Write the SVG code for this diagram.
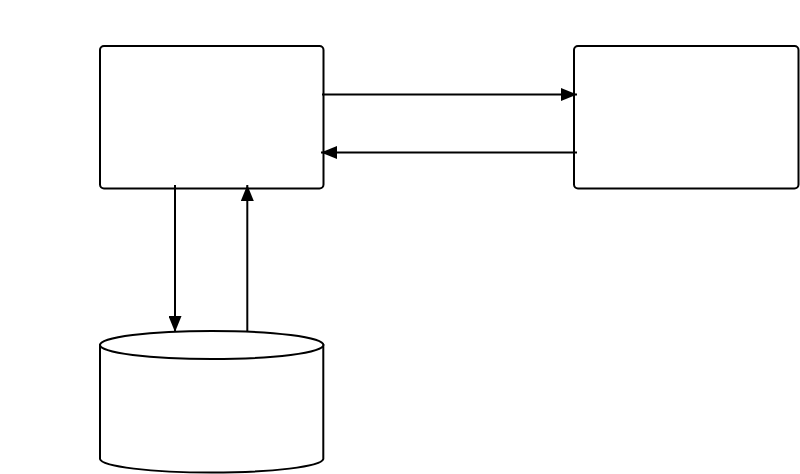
<svg xmlns="http://www.w3.org/2000/svg" width="800" height="474" viewBox="0 0 800 474">
<defs>
<style>
.shape{fill:#fff;stroke:#000;stroke-width:2}
.conn{fill:none;stroke:#000;stroke-width:2}
</style>
<marker id="arr" viewBox="0 0 16 13" refX="16" refY="6.5" markerWidth="16" markerHeight="13" markerUnits="userSpaceOnUse" orient="auto">
<path d="M0,0 L16,6.5 L0,13 Z" fill="#000"/>
</marker>
</defs>
<rect width="800" height="474" fill="#fff"/>
<g id="node-app">
<rect class="shape" x="100" y="46" width="223.5" height="142.5" rx="4"/>
</g>
<g id="node-service">
<rect class="shape" x="574" y="46" width="224.5" height="142.5" rx="4"/>
</g>
<g id="node-db">
<path class="shape" d="M100,345 L100,459 A111.7,14 0 0 0 323.3,459 L323.3,345 Z"/>
<ellipse class="shape" cx="211.7" cy="345" rx="111.7" ry="14"/>
</g>
<g id="connectors">
<line class="conn" x1="322" y1="94.5" x2="577" y2="94.5" marker-end="url(#arr)"/>
<line class="conn" x1="577" y1="152.5" x2="321" y2="152.5" marker-end="url(#arr)"/>
<line class="conn" x1="175" y1="185" x2="175" y2="332" marker-end="url(#arr)"/>
<line class="conn" x1="247.3" y1="332" x2="247.3" y2="185" marker-end="url(#arr)"/>
</g>
</svg>
